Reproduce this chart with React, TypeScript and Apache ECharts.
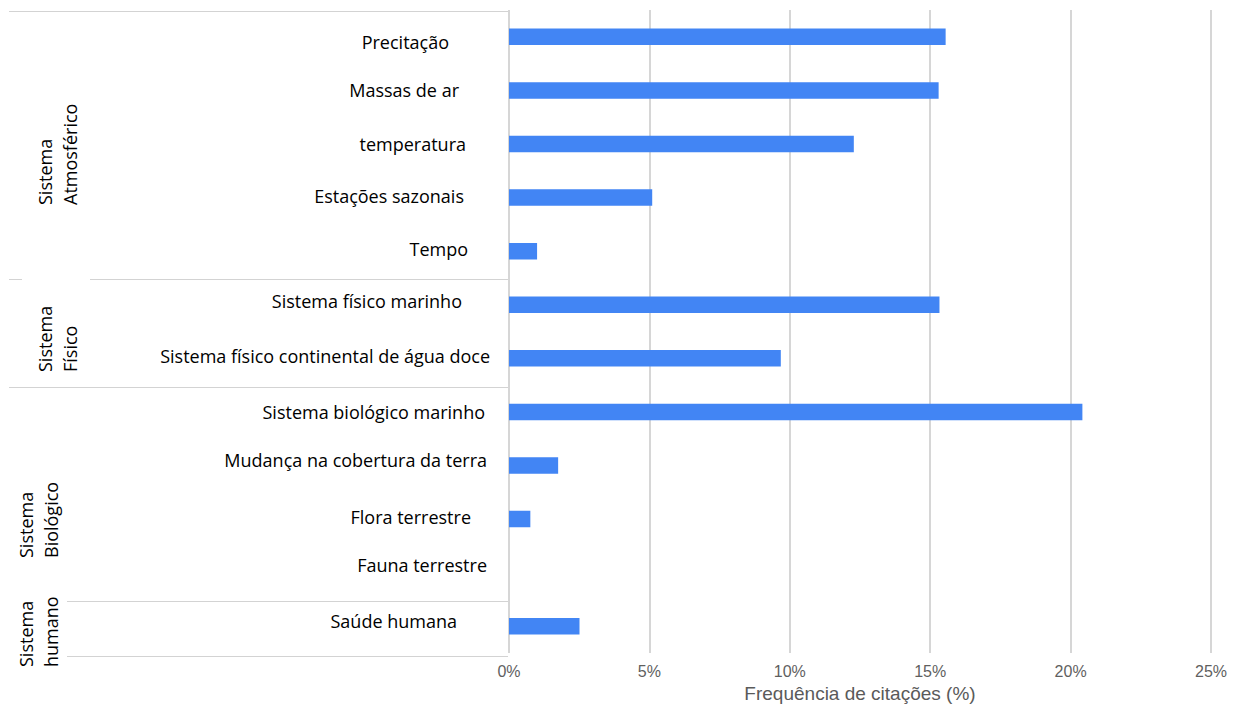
import React, { useEffect, useRef } from "react";
import * as echarts from "echarts";

const categories = [
  "Precitação",
  "Massas de ar",
  "temperatura",
  "Estações sazonais",
  "Tempo",
  "Sistema físico marinho",
  "Sistema físico continental de água doce",
  "Sistema biológico marinho",
  "Mudança na cobertura da terra",
  "Flora terrestre",
  "Fauna terrestre",
  "Saúde humana",
];

const frequencia = [15.55, 15.3, 12.28, 5.1, 1.0, 15.33, 9.68, 20.42, 1.75, 0.76, 0, 2.51];

const xTicks = [0, 5, 10, 15, 20, 25];

const groupNames = ["Sistema\nAtmosférico", "Sistema\nFísico", "Sistema\nBiológico", "Sistema\nhumano"];

const axisTitle = "Frequência de citações (%)";

// label layout tweaks (style only)
const labelPadRight = [60, 50, 43, 45, 41, 47, 19, 24, 22, 38, 22, 52];
const labelDy = [5, 0, 0, -2, -2, -4, -2, 0, -6, -2, -8, -5];

export default function App() {
  const ref = useRef<HTMLDivElement>(null);

  useEffect(() => {
    if (!ref.current) return;
    const chart = echarts.init(ref.current, undefined, { renderer: "svg" });

    const rich: Record<string, any> = {};
    categories.forEach((_, i) => {
      const dy = labelDy[i];
      rich["s" + i] = {
        fontFamily: "Open Sans",
        fontSize: 18,
        color: "#000000",
        padding: [dy > 0 ? dy * 2 : 0, labelPadRight[i], dy < 0 ? -dy * 2 : 0, 0],
      };
    });

    const lineStyle = { stroke: "#d3d3d3", lineWidth: 1 };
    const groupTextStyle = {
      fontFamily: "Open Sans",
      fontSize: 18,
      fill: "#000000",
      align: "left",
      verticalAlign: "middle",
      lineHeight: 25,
    };
    const groupAnchors = [
      [57, 205],
      [57, 372],
      [38, 558],
      [38, 667],
    ];

    chart.setOption({
      animation: false,
      backgroundColor: "#ffffff",
      grid: { left: 509, right: 30, top: 10, bottom: 45, containLabel: false },
      xAxis: {
        type: "value",
        min: xTicks[0],
        max: xTicks[xTicks.length - 1],
        interval: xTicks[1] - xTicks[0],
        axisLine: { show: false },
        axisTick: { show: false },
        axisLabel: {
          formatter: "{value}%",
          fontFamily: "Liberation Sans",
          fontSize: 16,
          color: "#5f5f5f",
          margin: 10,
        },
        splitLine: { show: true, lineStyle: { color: "#d6d6d6", width: 2 } },
        name: axisTitle,
        nameLocation: "middle",
        nameGap: 30,
        nameTextStyle: { fontFamily: "Liberation Sans", fontSize: 19, color: "#5a5a5a" },
      },
      yAxis: {
        type: "category",
        inverse: true,
        data: categories,
        axisLine: { show: false },
        axisTick: { show: false },
        axisLabel: {
          margin: 0,
          align: "right",
          formatter: (v: string, i: number) => `{s${i}|${v}}`,
          rich,
        },
        splitLine: { show: false },
      },
      series: [
        {
          type: "bar",
          data: frequencia,
          barWidth: 16.5,
          itemStyle: { color: "#4285F4" },
        },
      ],
      graphic: [
        { type: "line", shape: { x1: 9, y1: 11.5, x2: 508, y2: 11.5 }, style: lineStyle, silent: true },
        { type: "line", shape: { x1: 9, y1: 279.5, x2: 22, y2: 279.5 }, style: lineStyle, silent: true },
        { type: "line", shape: { x1: 90, y1: 279.5, x2: 508, y2: 279.5 }, style: lineStyle, silent: true },
        { type: "line", shape: { x1: 9, y1: 387.5, x2: 508, y2: 387.5 }, style: lineStyle, silent: true },
        { type: "line", shape: { x1: 67, y1: 601.5, x2: 508, y2: 601.5 }, style: lineStyle, silent: true },
        { type: "line", shape: { x1: 67, y1: 656.5, x2: 508, y2: 656.5 }, style: lineStyle, silent: true },
        ...groupNames.map((t, i) => ({
          type: "text",
          x: groupAnchors[i][0],
          y: groupAnchors[i][1],
          rotation: Math.PI / 2,
          silent: true,
          style: { text: t, ...groupTextStyle },
        })),
      ],
    });

    return () => chart.dispose();
  }, []);

  return (
    <div
      ref={ref}
      style={{ position: "fixed", left: 0, top: 0, width: 1241, height: 708 }}
    />
  );
}
